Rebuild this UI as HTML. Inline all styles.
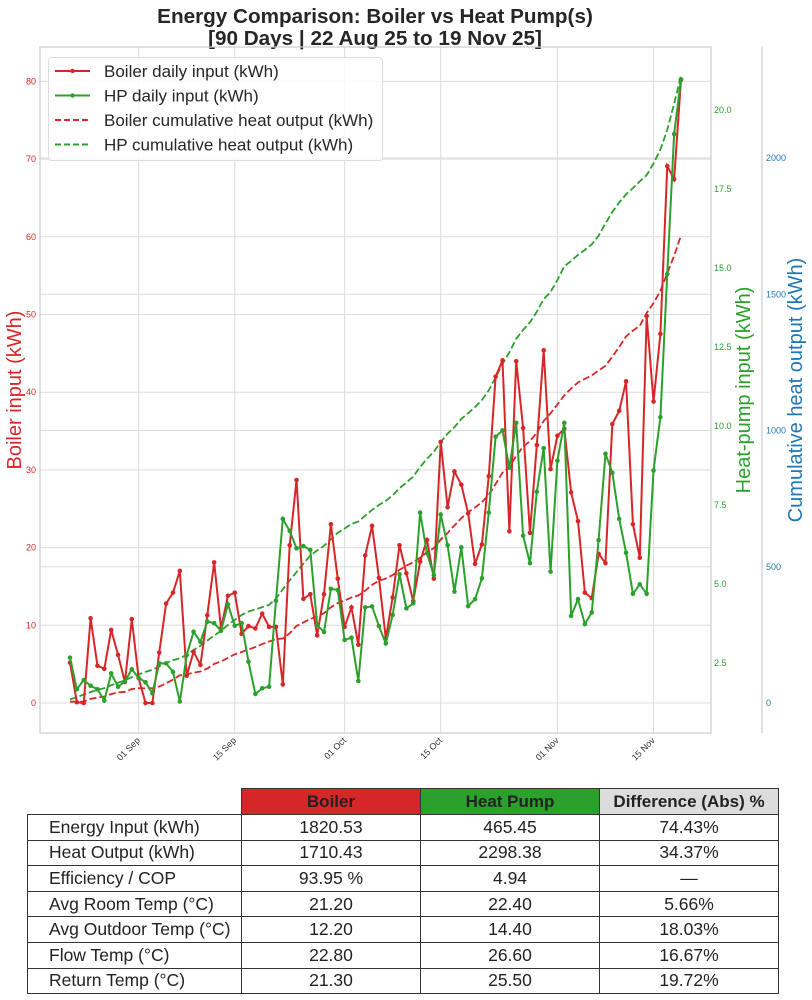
<!DOCTYPE html>
<html><head><meta charset="utf-8">
<style>
html,body{margin:0;padding:0;background:#fff;width:812px;height:1000px;overflow:hidden;font-family:"Liberation Sans",sans-serif;}
#chart{position:absolute;left:0;top:0;}
#tbl{position:absolute;left:27px;top:788px;border-collapse:collapse;font-family:"Liberation Sans",sans-serif;color:#222;}
#tbl td,#tbl th{border:1px solid #333;height:24.6px;padding:0;font-size:17.5px;text-align:center;font-weight:normal;}
#tbl th{font-weight:bold;font-size:17px;height:25px;}
#tbl td.lbl{text-align:left;padding-left:21px;}
#tbl th.blank{border:none;background:#fff;}
</style></head><body>
<svg id="chart" width="812" height="780" xmlns="http://www.w3.org/2000/svg"></svg>
<table id="tbl">
<colgroup><col style="width:214px"><col style="width:179px"><col style="width:179px"><col style="width:179px"></colgroup>
<tr><th class="blank"></th><th style="background:#d62728">Boiler</th><th style="background:#2ca02c">Heat Pump</th><th style="background:#dcdcdc">Difference (Abs) %</th></tr>
<tr><td class="lbl">Energy Input (kWh)</td><td>1820.53</td><td>465.45</td><td>74.43%</td></tr>
<tr><td class="lbl">Heat Output (kWh)</td><td>1710.43</td><td>2298.38</td><td>34.37%</td></tr>
<tr><td class="lbl">Efficiency / COP</td><td>93.95 %</td><td>4.94</td><td>—</td></tr>
<tr><td class="lbl">Avg Room Temp (°C)</td><td>21.20</td><td>22.40</td><td>5.66%</td></tr>
<tr><td class="lbl">Avg Outdoor Temp (°C)</td><td>12.20</td><td>14.40</td><td>18.03%</td></tr>
<tr><td class="lbl">Flow Temp (°C)</td><td>22.80</td><td>26.60</td><td>16.67%</td></tr>
<tr><td class="lbl">Return Temp (°C)</td><td>21.30</td><td>25.50</td><td>19.72%</td></tr>
</table>
<script>
const boilerInput = [5.2,0.1,0,10.9,4.8,4.4,9.4,6.2,2.7,10.8,3.2,0,0,6.5,12.8,14.2,17,3.5,6.6,4.9,11.3,18.1,9.6,13.8,14.2,8.9,9.9,9.6,11.5,9.8,9.8,
2.4,20.3,28.7,13.4,14,8.7,14,23,16,9.8,12.3,7.5,19,22.8,16.1,8.3,13.6,20.3,16.7,13.1,18.2,21,16,33.6,25.2,29.8,28.1,24.4,17.9,20.4,29.2,42.0,
44.1,22.1,44,35.4,21.9,33.2,45.4,30.1,34.4,35.3,27.1,23.4,14.2,13.5,19.2,18,35.9,37.6,41.4,23,18.7,49.8,38.8,47.5,69.1,67.4,80.2];
const hpInput = [2.67,1.67,1.96,1.78,1.67,1.31,2.17,1.75,1.92,2.3,2.03,1.89,1.54,2.49,2.49,2.22,1.28,2.75,3.49,3.17,3.81,3.76,3.52,4.36,3.68,3.76,2.54,1.52,1.7,1.75,4.47,
7.06,6.68,6.13,6.2,6.08,3.7,3.48,4.85,4.81,3.23,3.3,1.93,4.26,4.29,3.67,3.12,4.02,5.31,4.23,4.39,7.26,5.97,5.28,7.2,6.23,4.76,6.16,4.3,4.52,5.18,7.26,9.66,
9.86,8.68,10.1,6.53,5.66,7.92,9.3,5.39,8.9,10.1,3.99,4.52,3.73,4.1,6.39,9.12,8.52,7.06,5.99,4.69,4.99,4.69,8.59,10.28,14.81,19.24,20.97];
const boilerEff = 0.9395;
const hpCop = 4.94;
const dateTickIdx = [10,24,40,54,71,85];
const dateTickLabels = ["01 Sep","15 Sep","01 Oct","15 Oct","01 Nov","15 Nov"];
const leftTicks = [0,10,20,30,40,50,60,70,80];
const hpTicks = [2.5,5.0,7.5,10.0,12.5,15.0,17.5,20.0];
const cumTicks = [0,500,1000,1500,2000];

const NS="http://www.w3.org/2000/svg";
const svg=document.getElementById('chart');
function el(tag,attrs,parent){const e=document.createElementNS(NS,tag);for(const k in attrs)e.setAttribute(k,attrs[k]);(parent||svg).appendChild(e);return e;}
const X0=70, DX=6.865;
const xS=i=>X0+DX*i;
const yL=v=>703-v*7.77;
const yHP=v=>742-v*31.6;
const yC=v=>703-v*0.2725;
const RED="#d62728",GREEN="#2ca02c",BLUE="#1f77b4";

let t=el('text',{x:375,y:23,'text-anchor':'middle','font-size':20.7,'font-weight':'bold',fill:'#262626'});
t.textContent="Energy Comparison: Boiler vs Heat Pump(s)";


t=el('text',{x:375,y:45,'text-anchor':'middle','font-size':20.7,'font-weight':'bold',fill:'#262626'});
t.textContent="[90 Days | 22 Aug 25 to 19 Nov 25]";



const grid=el('g',{stroke:'#dcdcdc','stroke-width':1});


leftTicks.forEach(v=>el('line',{x1:40,x2:711,y1:yL(v),y2:yL(v)},grid));
cumTicks.forEach(v=>el('line',{x1:40,x2:711,y1:yC(v),y2:yC(v)},grid));
dateTickIdx.forEach(i=>el('line',{x1:xS(i),x2:xS(i),y1:47,y2:733},grid));

const frame=el('rect',{x:40,y:47,width:671,height:686,fill:'none',stroke:'#cccccc','stroke-width':1.2});


const bsp=el('line',{x1:762,x2:762,y1:47,y2:733,stroke:'#cccccc','stroke-width':1.2});



leftTicks.forEach(v=>{const e=el('text',{x:36,y:yL(v)+3,'text-anchor':'end','font-size':9,fill:RED});e.textContent=v;

});
hpTicks.forEach(v=>{const e=el('text',{x:714,y:yHP(v)+3,'font-size':9,fill:GREEN});e.textContent=v.toFixed(1);

});
cumTicks.forEach(v=>{const e=el('text',{x:766,y:yC(v)+3,'font-size':9,fill:BLUE});e.textContent=v;

});
dateTickIdx.forEach((i,k)=>{const x=xS(i);const e=el('text',{x:x+2,y:741,'text-anchor':'end','font-size':9,fill:'#333',transform:`rotate(-45 ${x+2} 741)`});e.textContent=dateTickLabels[k];

});

t=el('text',{x:0,y:0,'text-anchor':'middle','font-size':20,fill:RED,transform:'translate(21 390) rotate(-90)'});t.textContent="Boiler input (kWh)";


t=el('text',{x:0,y:0,'text-anchor':'middle','font-size':20,fill:GREEN,transform:'translate(750 390) rotate(-90)'});t.textContent="Heat-pump input (kWh)";


t=el('text',{x:0,y:0,'text-anchor':'middle','font-size':20,fill:BLUE,transform:'translate(802 390) rotate(-90)'});t.textContent="Cumulative heat output (kWh)";



function cum(arr,f){let s=0;return arr.map(v=>(s+=v*f));}
const bCum=cum(boilerInput,boilerEff), hCum=cum(hpInput,hpCop);
let p=el('polyline',{points:bCum.map((v,i)=>xS(i)+','+yC(v)).join(' '),fill:'none',stroke:RED,'stroke-width':1.8,'stroke-dasharray':'7,3'});


p=el('polyline',{points:hCum.map((v,i)=>xS(i)+','+yC(v)).join(' '),fill:'none',stroke:GREEN,'stroke-width':1.8,'stroke-dasharray':'7,3'});



p=el('polyline',{points:boilerInput.map((v,i)=>xS(i)+','+yL(v)).join(' '),fill:'none',stroke:RED,'stroke-width':2});


boilerInput.forEach((v,i)=>{const c=el('circle',{cx:xS(i),cy:yL(v),r:2.3,fill:RED});

});
p=el('polyline',{points:hpInput.map((v,i)=>xS(i)+','+yHP(v)).join(' '),fill:'none',stroke:GREEN,'stroke-width':2});


hpInput.forEach((v,i)=>{const c=el('circle',{cx:xS(i),cy:yHP(v),r:2.3,fill:GREEN});

});

const lg=el('g',{});


el('rect',{x:48.5,y:57.5,width:334,height:103,rx:3,fill:'#fff','fill-opacity':0.85,stroke:'#dddddd'},lg);
const items=[["Boiler daily input (kWh)",RED,false],["HP daily input (kWh)",GREEN,false],["Boiler cumulative heat output (kWh)",RED,true],["HP cumulative heat output (kWh)",GREEN,true]];
items.forEach((it,k)=>{const y=71+k*24.5;
const g=el('g',{},lg);


const a={x1:55,x2:90,y1:y,y2:y,stroke:it[1],'stroke-width':2};if(it[2])a['stroke-dasharray']='6,3';
el('line',a,g);if(!it[2])el('circle',{cx:72.5,cy:y,r:2.2,fill:it[1]},g);
const e=el('text',{x:104,y:y+6,'font-size':17,fill:'#262626'},g);e.textContent=it[0];});
</script>
</body></html>
